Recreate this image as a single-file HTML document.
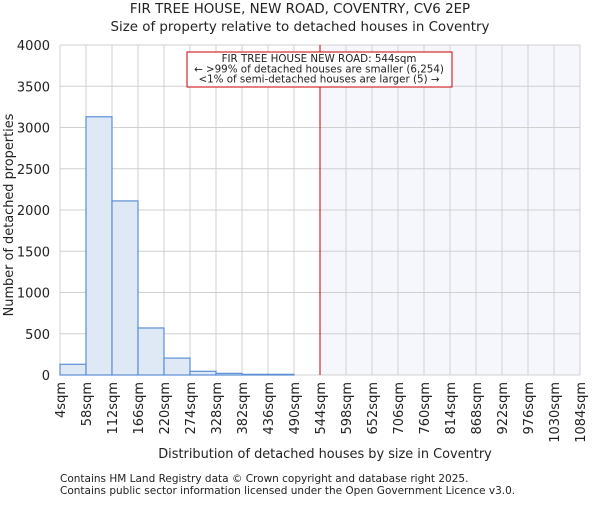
<!DOCTYPE html>
<html><head><meta charset="utf-8"><style>
body{margin:0;background:#fff}
svg text{font-family:"DejaVu Sans","Liberation Sans",sans-serif;fill:#222}
</style></head><body>
<svg width="600" height="500" xmlns="http://www.w3.org/2000/svg">
<text x="300" y="13" text-anchor="middle" font-size="13.4">FIR TREE HOUSE, NEW ROAD, COVENTRY, CV6 2EP</text>
<text x="300" y="31" text-anchor="middle" font-size="13.4">Size of property relative to detached houses in Coventry</text>
<g id="plot"></g>
<text x="325" y="458" text-anchor="middle" font-size="12.9">Distribution of detached houses by size in Coventry</text>
<text transform="translate(13,215) rotate(-90)" text-anchor="middle" font-size="12.9">Number of detached properties</text>
<text x="60" y="482" font-size="10.5" fill="#444">Contains HM Land Registry data © Crown copyright and database right 2025.</text>
<text x="60" y="494" font-size="10.5" fill="#444">Contains public sector information licensed under the Open Government Licence v3.0.</text>
</svg>
<script>
const categories=["4sqm","58sqm","112sqm","166sqm","220sqm","274sqm","328sqm","382sqm","436sqm","490sqm","544sqm","598sqm","652sqm","706sqm","760sqm","814sqm","868sqm","922sqm","976sqm","1030sqm","1084sqm"];
const counts=[130,3130,2110,570,205,45,20,8,8,0,0,0,0,0,0,0,0,0,0,0];
const yTicks=[0,500,1000,1500,2000,2500,3000,3500,4000];
const markerIndex=10;
const L=60,R=580,T=45,B=375,yMax=4000;
const bw=(R-L)/counts.length;
const xs=i=>L+i*bw, ys=v=>B-v/yMax*(B-T);
const g=document.getElementById('plot');
const NS="http://www.w3.org/2000/svg";
function mk(t,a){const e=document.createElementNS(NS,t);for(const k in a)e.setAttribute(k,a[k]);g.appendChild(e);return e;}
let e=mk('rect',{x:xs(markerIndex),y:T,width:R-xs(markerIndex),height:B-T,fill:'#f5f7fd'});


for(let i=0;i<=counts.length;i++){e=mk('line',{x1:xs(i),x2:xs(i),y1:T,y2:B,stroke:'#d0d0d0','stroke-width':1});

}
yTicks.forEach(v=>{e=mk('line',{x1:L,x2:R,y1:ys(v),y2:ys(v),stroke:'#d0d0d0','stroke-width':1});


e=mk('text',{x:L-10,y:ys(v)+5,'text-anchor':'end','font-size':'13'});e.textContent=v;

});
counts.forEach((v,i)=>{if(v<=0)return;e=mk('rect',{x:xs(i),y:ys(v),width:bw,height:B-ys(v),fill:'#dfe8f5',stroke:'#5b8fd6','stroke-width':1.2});

});
categories.forEach((c,i)=>{e=mk('text',{transform:`translate(${xs(i)+5},382) rotate(-90)`,'text-anchor':'end','font-size':'13'});e.textContent=c;

});
e=mk('line',{x1:xs(markerIndex),x2:xs(markerIndex),y1:T,y2:B,stroke:'#cc0000','stroke-width':1});


e=mk('rect',{x:187,y:52,width:265,height:35,fill:'#fff',stroke:'#cc0000','stroke-width':1});


["FIR TREE HOUSE NEW ROAD: 544sqm","← >99% of detached houses are smaller (6,254)","<1% of semi-detached houses are larger (5) →"].forEach((t,i)=>{
e=mk('text',{x:319,y:62+i*10.3,'text-anchor':'middle','font-size':'10.3'});e.textContent=t;

});
</script>
</body></html>
